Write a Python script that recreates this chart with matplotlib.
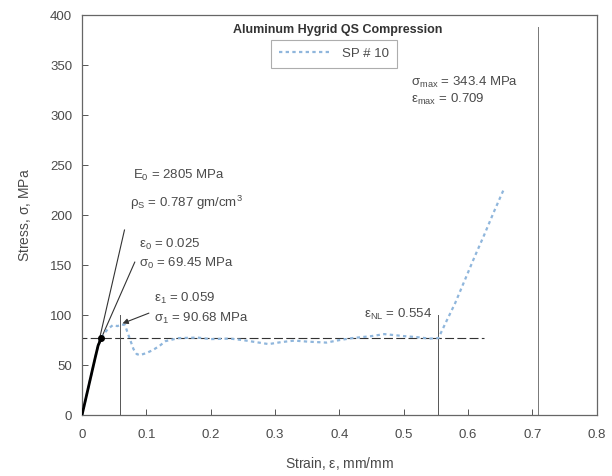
import matplotlib
matplotlib.use("Agg")
import matplotlib.pyplot as plt
import numpy as np

plt.rcParams['font.family'] = ['Liberation Sans', 'DejaVu Sans']
plt.rcParams['mathtext.fontset'] = 'custom'
plt.rcParams['mathtext.rm'] = 'Liberation Sans'
plt.rcParams['mathtext.it'] = 'Liberation Sans'
plt.rcParams['mathtext.bf'] = 'Liberation Sans:bold'
plt.rcParams['mathtext.default'] = 'regular'

# Measured stress-strain record, specimen SP # 10
strain = [0.0, 0.005, 0.010, 0.015, 0.020, 0.025, 0.030, 0.035, 0.040, 0.048,
          0.055, 0.062, 0.067, 0.070, 0.075, 0.080, 0.085, 0.090, 0.100, 0.110,
          0.120, 0.130, 0.150, 0.180, 0.200, 0.230, 0.250, 0.270, 0.290, 0.310,
          0.330, 0.350, 0.380, 0.400, 0.420, 0.450, 0.470, 0.500, 0.520, 0.540,
          0.554, 0.565, 0.580, 0.595, 0.610, 0.625, 0.640, 0.655]
stress = [0.0, 14.0, 28.0, 42.0, 56.0, 69.5, 77.0, 82.0, 86.0, 90.0,
          89.0, 90.7, 90.0, 84.0, 75.0, 66.0, 61.0, 60.0, 62.0, 65.0,
          69.0, 74.0, 77.0, 77.5, 76.0, 76.5, 75.0, 73.0, 71.0, 73.0,
          74.5, 73.5, 72.5, 75.0, 77.0, 79.0, 81.0, 79.0, 78.0, 76.5,
          77.0, 92.0, 112.0, 135.0, 158.0, 180.0, 203.0, 225.0]

# Characteristic values
E0 = 2805.0          # initial modulus, MPa
plateau = 77.0       # plateau stress, MPa
eps_0, sig_0 = 0.025, 69.45
eps_1, sig_1 = 0.059, 90.68
eps_NL = 0.554
eps_max, sig_max = 0.709, 343.4
eps_knee = 0.030     # end of the linear part

x_ticks = [0, 0.1, 0.2, 0.3, 0.4, 0.5, 0.6, 0.7, 0.8]
x_ticklabels = ['0', '0.1', '0.2', '0.3', '0.4', '0.5', '0.6', '0.7', '0.8']
y_ticks = [0, 50, 100, 150, 200, 250, 300, 350, 400]

txt = '#4a4a4a'
fig = plt.figure(figsize=(6.12, 4.76), dpi=100)
ax = fig.add_axes([0.134, 0.128, 0.841, 0.840])

strain = np.array(strain)
stress = np.array(stress)

# test record
ax.plot(strain, stress, color='#8fb6dc', lw=1.6, ls=(0, (1.5, 1.5)),
        label='SP # 10', zorder=3)
lin = strain <= eps_knee
ax.plot(strain[lin], stress[lin], color='black', lw=2.0, zorder=4)
ax.plot([eps_knee], [plateau], 'o', color='black', ms=4, zorder=5)

# modulus line through the origin
e_line = np.array([0.0, 0.066])
ax.plot(e_line, E0 * e_line, color='#333333', lw=0.8, zorder=2)

# leader from the sigma_0 label
ax.plot([eps_knee, 0.082], [plateau, 153], color='#333333', lw=0.8)

# plateau level
ax.plot([-0.006, 0.625], [plateau, plateau], color='#333333', lw=0.8,
        ls=(0, (8, 3)))

# markers of characteristic strains
ax.plot([eps_1, eps_1], [0, 100], color='#555555', lw=0.7)
ax.plot([eps_NL, eps_NL], [0, 100], color='#555555', lw=0.7)
ax.plot([eps_max, eps_max], [0, 388], color='#777777', lw=0.7)

# arrow to the first peak
ax.annotate('', xy=(eps_1, sig_1), xytext=(0.108, 103),
            arrowprops=dict(arrowstyle='-|>', color='#333333', lw=0.8,
                            mutation_scale=8))

fs = 9.5
ax.text(0.079, 240, r'E$_0$ = %d MPa' % E0, fontsize=fs, color=txt, va='center')
ax.text(0.074, 212, r'$\rho_S$ = 0.787 gm/cm$^3$', fontsize=fs, color=txt,
        va='center')
ax.text(0.088, 171, r'$\varepsilon_0$ = %.3f' % eps_0, fontsize=fs, color=txt,
        va='center')
ax.text(0.088, 152, r'$\sigma_0$ = %.2f MPa' % sig_0, fontsize=fs, color=txt,
        va='center')
ax.text(0.112, 117, r'$\varepsilon_1$ = %.3f' % eps_1, fontsize=fs, color=txt,
        va='center')
ax.text(0.112, 97, r'$\sigma_1$ = %.2f MPa' % sig_1, fontsize=fs, color=txt,
        va='center')
ax.text(0.545, 101, r'$\varepsilon_{NL}$ = %.3f' % eps_NL, fontsize=fs,
        color=txt, va='center', ha='right')
ax.text(0.512, 333, r'$\sigma_{max}$ = %.1f MPa' % sig_max, fontsize=fs,
        color=txt, va='center')
ax.text(0.512, 316, r'$\varepsilon_{max}$ = %.3f' % eps_max, fontsize=fs,
        color=txt, va='center')

ax.text(0.397, 385, 'Aluminum Hygrid QS Compression', fontsize=9,
        fontweight='bold', color='#333333', ha='center', va='center')

leg = ax.legend(loc='upper center', bbox_to_anchor=(0.49, 0.955),
                fontsize=9.5, frameon=True, fancybox=False, handlelength=4,
                borderpad=0.6, labelcolor=txt)
leg.get_frame().set_edgecolor('#999999')
leg.get_frame().set_linewidth(0.8)

ax.set_xlim(0, 0.8)
ax.set_ylim(0, 400)
ax.set_xticks(x_ticks)
ax.set_xticklabels(x_ticklabels)
ax.set_yticks(y_ticks)
ax.tick_params(direction='in', length=4, width=0.7, colors='#555555',
               labelsize=9.5, labelcolor=txt)
ax.tick_params(axis='x', pad=10)
ax.tick_params(axis='y', pad=7)
for s in ax.spines.values():
    s.set_color('#666666')
    s.set_linewidth(0.9)

ax.set_xlabel(r'Strain, $\varepsilon$, mm/mm', fontsize=10, color=txt,
              labelpad=10)
ax.set_ylabel(r'Stress, $\sigma$, MPa', fontsize=10, color=txt, labelpad=12)

fig.savefig('out.png', dpi=100)
